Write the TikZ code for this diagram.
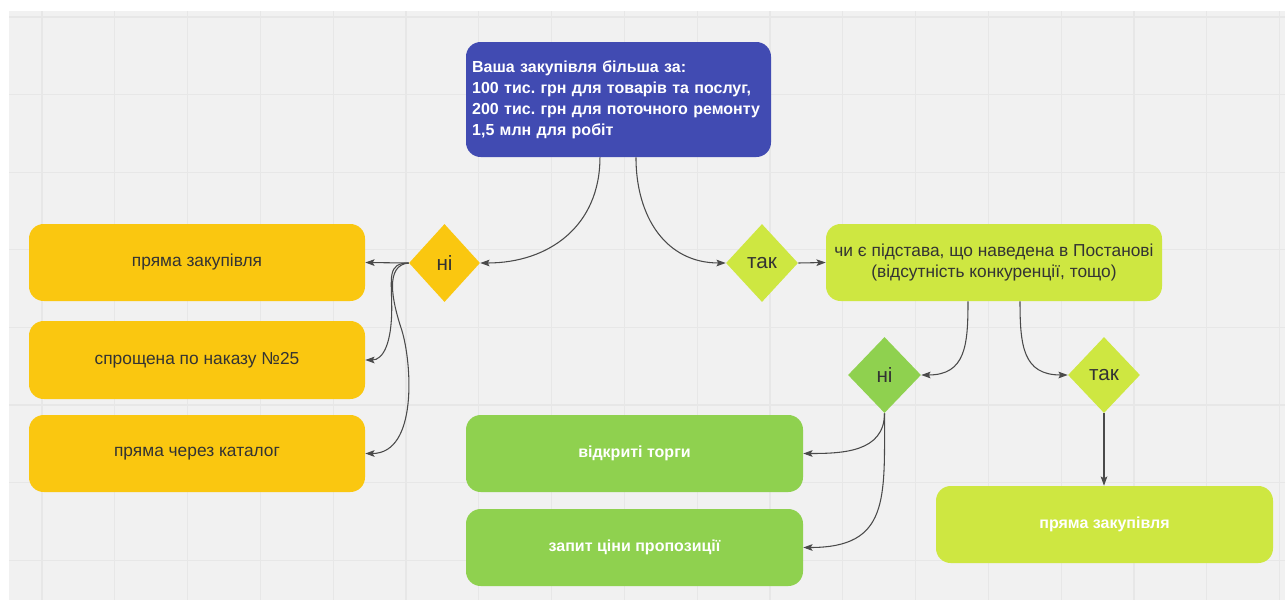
\documentclass[tikz,border=0pt]{standalone}
\usepackage{fontspec}
\setmainfont{Liberation Sans}
\usetikzlibrary{shapes.geometric,arrows.meta,calc}
\frenchspacing

\definecolor{canvas}{HTML}{F1F1F1}
\definecolor{gridc}{HTML}{E7E7E7}
\definecolor{mblue}{HTML}{414BB2}
\definecolor{myellow}{HTML}{FAC710}
\definecolor{mlime}{HTML}{CEE741}
\definecolor{mgreen}{HTML}{8FD14F}
\definecolor{ink}{HTML}{333333}
\definecolor{wirec}{HTML}{4A4A4A}

\begin{document}
\begin{tikzpicture}[x=0.75pt,y=-0.75pt,
  gridline/.style={draw=gridc,line width=0.9pt},
  card/.style={rectangle,rounded corners=11pt,draw=none,inner sep=4.5pt,
    text=ink,align=center,font=\fontsize{13}{15.6}\selectfont,
    minimum width=252pt,minimum height=57.75pt},
  boldcard/.style={card,text=white,font=\bfseries\fontsize{12}{14.4}\selectfont},
  decision/.style={diamond,draw=none,inner sep=0pt,text=ink,
    font=\fontsize{15.5}{18}\selectfont},
  wire/.style={draw=wirec,line width=0.8pt,
    -{Stealth[length=7pt,width=5pt,inset=1.5pt]}}
]
\useasboundingbox (0,0) rectangle (1285,600);
\fill[white] (0,0) rectangle (1285,600);
\fill[canvas] (9,11) rectangle (1285,600);
% board grid
\foreach \i in {0,...,17} \draw[gridline] ({42+72.8*\i},11) -- ({42+72.8*\i},600);
\foreach \j in {0,...,7} \draw[gridline] (9,{17+77.6*\j}) -- (1285,{17+77.6*\j});

% question
\node[card,fill=mblue,minimum width=228.75pt,minimum height=86.25pt,
  text width=219.5pt,align=left,text=white,
  font=\bfseries\fontsize{12}{15.75}\selectfont] (top) at (618.5,99.5)
  {Ваша закупівля більша за:\\100 тис. грн для товарів та послуг,\\200 тис. грн для поточного ремонту\\1,5 млн для робіт};

% first split
\node[decision,fill=myellow,minimum width=53.25pt,minimum height=58.5pt] (no1) at (444.5,263) {ні};
\node[decision,fill=mlime,minimum width=54pt,minimum height=58.5pt] (yes1) at (762,263) {так};

% below thresholds
\node[card,fill=myellow] (a1) at (197,262.5) {пряма закупівля};
\node[card,fill=myellow,minimum height=58.5pt] (a2) at (197,360) {спрощена по наказу №25};
\node[card,fill=myellow] (a3) at (197,453.5) {пряма через каталог};

% above thresholds
\node[card,fill=mlime] (cond) at (994,262.5) {чи є підстава, що наведена в Постанові\\(відсутність конкуренції, тощо)};
\node[decision,fill=mgreen,minimum width=54.75pt,minimum height=57pt] (no2) at (884.5,375) {ні};
\node[decision,fill=mlime,minimum width=54pt,minimum height=57pt] (yes2) at (1104,375) {так};

\node[boldcard,fill=mgreen,minimum width=252.75pt] (open) at (634.5,453.5) {відкриті торги};
\node[boldcard,fill=mgreen,minimum width=252.75pt] (rfq) at (634.5,547.5) {запит ціни пропозиції};
\node[boldcard,fill=mlime,minimum width=252.75pt] (direct) at (1104.5,524.5) {пряма закупівля};

% connectors
\draw[wire] ([xshift=-13.9pt]top.south) to[out=-90,in=0,looseness=1.1] (no1.east);
\draw[wire] ([xshift=13.1pt]top.south) to[out=-90,in=180,looseness=1.1] (yes1.west);
\draw[wire] (yes1.east) -- (cond.west);

\draw[wire] (no1.west) -- (a1.east);
\draw[wire] (no1.west) .. controls +(-22,0) and +(0,-30) .. ($(no1.west)+(-17,45)$)
  .. controls +(0,35) and +(18,0) .. (a2.east);
\draw[wire] (no1.west) .. controls +(-24,2) and +(-10,-30) .. ($(no1.west)+(-7,67)$)
  .. controls +(10,32) and +(53,0) .. (a3.east);

\draw[wire] ([xshift=-19.5pt]cond.south) to[out=-90,in=0,looseness=1.3] (no2.east);
\draw[wire] ([xshift=19.5pt]cond.south) to[out=-90,in=180,looseness=1.3] (yes2.west);

\draw[wire] (no2.south) to[out=-90,in=0,looseness=1.1] (open.east);
\draw[wire] (no2.south) to[out=-90,in=0,looseness=1.4] (rfq.east);
\draw[wire] (yes2.south) -- (yes2.south |- direct.north);
\end{tikzpicture}
\end{document}
